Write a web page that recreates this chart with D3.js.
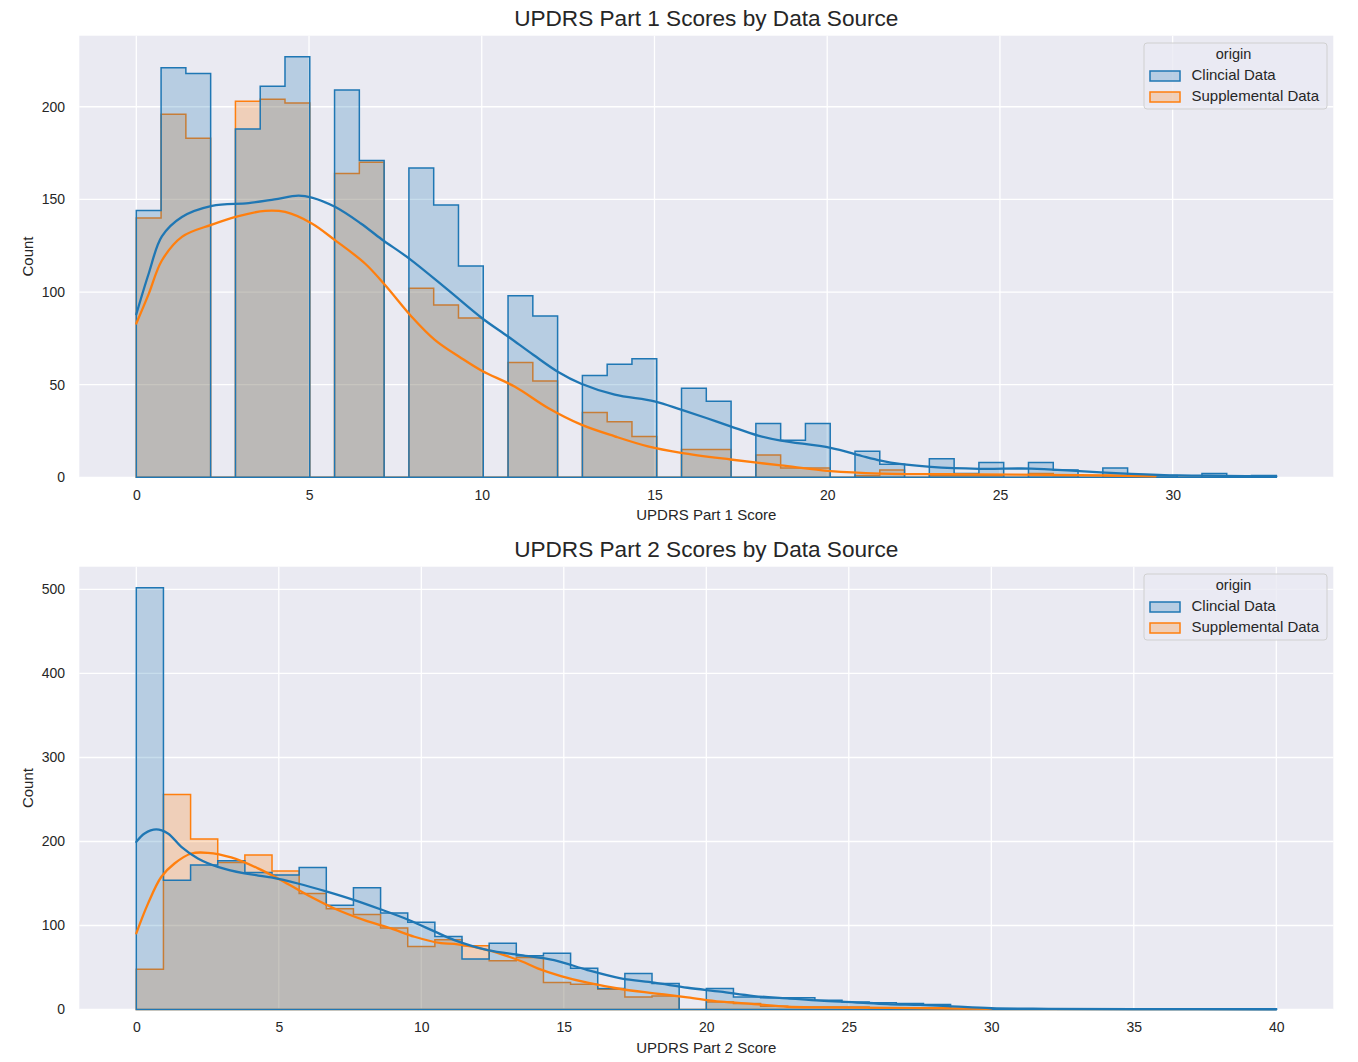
<!DOCTYPE html>
<html><head><meta charset="utf-8">
<script src="https://cdn.jsdelivr.net/npm/d3@7"></script>
<style>
body{margin:0;background:#fff}
svg{display:block}
text{font-family:"Liberation Sans",Arial,sans-serif;fill:#262626}
</style>
</head><body>
<svg id="chart" width="1358" height="1062"></svg>
<script>
// ---------------- data ----------------
const seriesNames = ["Clincial Data", "Supplemental Data"];
const seriesColors = ["#1f77b4", "#ff7f0e"];
const legendTitle = "origin";

const part1Title = "UPDRS Part 1 Scores by Data Source";
const part1XLabel = "UPDRS Part 1 Score";
const part1Scores = [0,1,2,3,4,5,6,7,8,9,10,11,12,13,14,15,16,17,18,19,20,21,22,23,24,25,26,27,28,29,30,31,32,33];
const part1Clinical = [144,221,218,188,211,227,209,171,167,147,114,98,87,55,61,64,48,41,29,20,29,14,7,10,2,8,8,4,5,1,1,2,0,1];
const part1Supplemental = [140,196,183,203,204,202,164,170,102,93,86,62,52,35,30,22,15,15,12,5,5,1,4,1,1,1,2,1,1,1,0,0,0,0];
const part1Bins = 46;
const part1Max = 33;
const part1ClinicalKdeX = [0,0.36,0.74,1.32,2.19,3.25,4.0,4.69,5.08,5.75,6.5,7.1,7.92,9.03,10.0,10.76,11.5,12.2,12.88,13.85,15.0,15.77,16.5,17.2,18.0,18.66,20.1,21.0,21.55,22.1,23.0,24.4,25.9,27.3,28.8,30.2,31.5,33];
const part1ClinicalKdeY = [88,110,130,140.5,146.5,148,150,152,151,146,137,128.5,117.8,101,86,76,66,57,50.5,44.6,41,36.5,32,27.5,22.5,19.8,15.9,11.5,9,7.2,5.6,4.6,4.7,3.3,1.9,1,0.8,0.5];
const part1SupplementalKdeX = [0,0.36,0.74,1.32,2.19,2.96,3.73,4.31,5.08,5.75,6.62,7.2,7.97,8.64,9.41,10.0,10.95,11.92,12.88,13.85,14.81,15.77,17.2,18.66,20.1,21.55,24.4,27.3,29.5];
const part1SupplementalKdeY = [83,99,117,129.8,136.4,141,143.8,143.2,137,128,115.4,103.8,86.7,74.2,64.3,57.5,49,37.4,28.4,22.1,16.7,13.2,9.6,6.4,3.3,2,1.6,1.2,0.5];
const part1XTicks = [0,5,10,15,20,25,30];
const part1YTicks = [0,50,100,150,200];

const part2Title = "UPDRS Part 2 Scores by Data Source";
const part2XLabel = "UPDRS Part 2 Score";
const part2Scores = [0,1,2,3,4,5,6,7,8,9,10,11,12,13,14,15,16,17,18,19,20,21,22,23,24,25,26,27,28,29,30,31,32,33,34,35,36,37,38,39,40];
const part2Clinical = [502,154,172,177,163,160,169,124,145,115,104,87,60,79,64,67,49,25,43,31,25,15,14,14,11,9,8,7,6,1,1,1,1,1,0,1,0,0,0,0,1];
const part2Supplemental = [48,256,203,175,184,165,138,120,113,97,75,83,76,58,62,32,30,24,15,16,9,7,4,3,3,3,2,2,2,1,1,0,0,0,0,0,0,0,0,0,0];
const part2Bins = 42;
const part2Max = 40;
const part2ClinicalKdeX = [0,0.29,0.70,1.11,1.58,2.16,2.86,3.8,4.73,5.67,6.72,7.65,8.59,9.52,10.0,10.46,11.16,12.33,13.49,14.66,15.83,17.0,18.17,19.34,20.5,21.67,22.84,24.0,25.2,26.35,27.5,28.5,30,32,35,40];
const part2ClinicalKdeY = [199.5,209.5,214.3,209.5,193.6,179.8,169.8,162,157.2,150,140,130.2,119,107.2,100,93,82.6,70.7,64.8,58.9,47,37.1,31.9,25.9,21.2,16,13.3,10.5,8.6,6.5,5.4,4,1.5,0.8,0.5,0.3];
const part2SupplementalKdeX = [0,0.41,0.88,1.34,1.93,2.51,3.33,4.27,5.08,6.02,6.95,8.0,8.94,9.76,10.69,11.16,12.33,13.49,14.08,14.9,15.83,17.0,18.17,19.34,20.5,21.67,22.84,24,26.35,28,30];
const part2SupplementalKdeY = [90.6,126,158,173.8,185.7,186.5,181,168,154,136,120.3,106.4,96.5,86.6,79,78,70.7,57.7,49,39.8,31.9,24.4,19.3,14.5,9.3,6.5,3.3,2.5,2,1.5,0.8];
const part2XTicks = [0,5,10,15,20,25,30,35,40];
const part2YTicks = [0,100,200,300,400,500];

// ---------------- drawing ----------------
const svg = d3.select("#chart");
const plotLeft = 79.3, plotRight = 1333.3;

function binCounts(scores, counts, maxVal, nBins) {
  const raw = [];
  scores.forEach((s, i) => { for (let k = 0; k < counts[i]; k++) raw.push(s); });
  const edges = d3.range(1, nBins).map(i => i * maxVal / nBins);
  return d3.bin().domain([0, maxVal]).thresholds(edges)(raw);
}

function drawPanel(cfg) {
  const top = cfg.top, bottom = cfg.bottom;
  const g = svg.append("g");
  const xPad = cfg.maxVal * 0.05;
  const x = d3.scaleLinear().domain([-xPad, cfg.maxVal + xPad]).range([plotLeft, plotRight]);
  const binsC = binCounts(cfg.scores, cfg.clinical, cfg.maxVal, cfg.nBins);
  const binsS = binCounts(cfg.scores, cfg.supplemental, cfg.maxVal, cfg.nBins);
  const yMax = d3.max(binsC.concat(binsS), b => b.length) * 1.05;
  const y = d3.scaleLinear().domain([0, yMax]).range([bottom, top]);

  // background
  g.append("rect").attr("x", plotLeft).attr("y", top)
    .attr("width", plotRight - plotLeft).attr("height", bottom - top)
    .attr("fill", "#EAEAF2");

  // grid
  const grid = g.append("g").attr("stroke", "#ffffff").attr("stroke-width", 1.3);
  grid.selectAll("line.v").data(cfg.xTicks).join("line")
    .attr("x1", d => x(d)).attr("x2", d => x(d)).attr("y1", top).attr("y2", bottom);
  grid.selectAll("line.h").data(cfg.yTicks).join("line")
    .attr("y1", d => y(d)).attr("y2", d => y(d)).attr("x1", plotLeft).attr("x2", plotRight);

  const line = d3.line().x(d => x(d[0])).y(d => y(d[1]));
  function stepPoints(bins) {
    const pts = [[bins[0].x0, 0]];
    bins.forEach(b => { pts.push([b.x0, b.length]); pts.push([b.x1, b.length]); });
    pts.push([bins[bins.length - 1].x1, 0]);
    return pts;
  }
  // histograms (supplemental first, clinical on top)
  [[binsS, 1], [binsC, 0]].forEach(([bins, si]) => {
    g.append("path").attr("d", line(stepPoints(bins)) + "Z")
      .attr("fill", seriesColors[si]).attr("fill-opacity", 0.25)
      .attr("stroke", seriesColors[si]).attr("stroke-width", 1.5)
      .attr("stroke-linejoin", "miter");
  });

  // KDE lines
  const kline = d3.line().curve(d3.curveCatmullRom.alpha(0.5)).x(d => x(d[0])).y(d => y(d[1]));
  [[cfg.suppKdeX, cfg.suppKdeY, 1], [cfg.clinKdeX, cfg.clinKdeY, 0]].forEach(([xs, ys, si]) => {
    g.append("path").attr("d", kline(xs.map((v, i) => [v, ys[i]])))
      .attr("fill", "none").attr("stroke", seriesColors[si]).attr("stroke-width", 2.3)
      .attr("stroke-linecap", "round");
  });

  // axes
  const xAxis = g.append("g").attr("transform", `translate(0,${bottom})`)
    .call(d3.axisBottom(x).tickValues(cfg.xTicks).tickSize(0).tickPadding(12.5));
  const yAxis = g.append("g").attr("transform", `translate(${plotLeft},0)`)
    .call(d3.axisLeft(y).tickValues(cfg.yTicks).tickSize(0).tickPadding(14.3));
  [xAxis, yAxis].forEach(a => {
    a.select(".domain").remove();
    a.selectAll("text").attr("font-size", 14).attr("fill", "#333")
      .attr("font-family", '"Liberation Sans",Arial,sans-serif');
  });

  // labels
  g.append("text").attr("x", (plotLeft + plotRight) / 2).attr("y", top - 9.5)
    .attr("text-anchor", "middle").attr("font-size", 22.6).text(cfg.title);
  g.append("text").attr("x", (plotLeft + plotRight) / 2).attr("y", bottom + 43)
    .attr("text-anchor", "middle").attr("font-size", 15).text(cfg.xLabel);
  g.append("text").attr("transform", `translate(32.5,${(top + bottom) / 2}) rotate(-90)`)
    .attr("text-anchor", "middle").attr("font-size", 15).text("Count");

  // legend
  const lx = plotRight - 6.3 - 183, ly = top + 7.3;
  const lg = g.append("g").attr("transform", `translate(${lx},${ly})`);
  lg.append("rect").attr("width", 183).attr("height", 66).attr("rx", 3)
    .attr("fill", "#EAEAF2").attr("fill-opacity", 0.8)
    .attr("stroke", "#d0d0d0").attr("stroke-width", 1);
  lg.append("text").attr("x", 89.5).attr("y", 16.3).attr("text-anchor", "middle")
    .attr("font-size", 14.5).text(legendTitle);
  seriesNames.forEach((name, i) => {
    lg.append("rect").attr("x", 6).attr("y", 28 + i * 21).attr("width", 30).attr("height", 10)
      .attr("fill", seriesColors[i]).attr("fill-opacity", 0.25)
      .attr("stroke", seriesColors[i]).attr("stroke-width", 1.5);
    lg.append("text").attr("x", 47.5).attr("y", 37 + i * 21).attr("font-size", 15).text(name);
  });
}

drawPanel({
  top: 35.7, bottom: 477.3, title: part1Title, xLabel: part1XLabel,
  scores: part1Scores, clinical: part1Clinical, supplemental: part1Supplemental,
  nBins: part1Bins, maxVal: part1Max,
  clinKdeX: part1ClinicalKdeX, clinKdeY: part1ClinicalKdeY,
  suppKdeX: part1SupplementalKdeX, suppKdeY: part1SupplementalKdeY,
  xTicks: part1XTicks, yTicks: part1YTicks
});
drawPanel({
  top: 566.7, bottom: 1009.5, title: part2Title, xLabel: part2XLabel,
  scores: part2Scores, clinical: part2Clinical, supplemental: part2Supplemental,
  nBins: part2Bins, maxVal: part2Max,
  clinKdeX: part2ClinicalKdeX, clinKdeY: part2ClinicalKdeY,
  suppKdeX: part2SupplementalKdeX, suppKdeY: part2SupplementalKdeY,
  xTicks: part2XTicks, yTicks: part2YTicks
});
</script>
</body></html>
